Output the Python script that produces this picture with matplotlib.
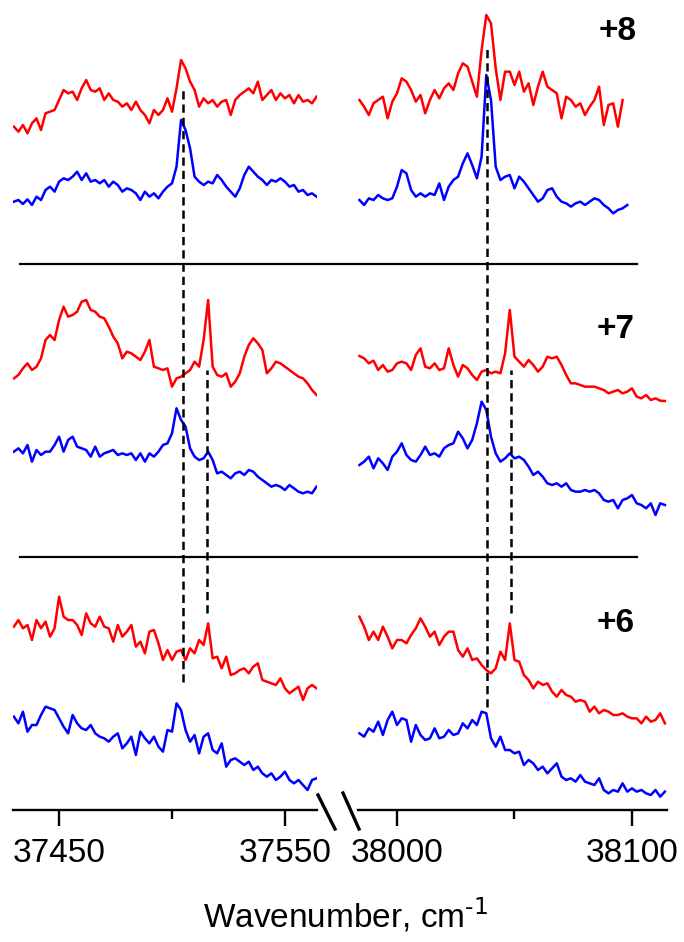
import numpy as np
import matplotlib
matplotlib.use("Agg")
import matplotlib.pyplot as plt
from matplotlib.lines import Line2D

plt.rcParams['font.family'] = ['Liberation Sans', 'DejaVu Sans']
plt.rcParams['mathtext.default'] = 'regular'

# ---------------- data (arbitrary intensity units) ----------------
STEP = 2.0  # cm-1 sampling of the traces
left_start = 37430.0
right_start = 37984.0

# +8 row
r8_left_red = [430,415,435,410,440,455,420,470,475,480, 510,540,530,535,510,545,570,540,535,545,
               510,530,510,505,490,500,480,505,480,465, 440,480,465,480,515,475,545,630,605,565,
               540,490,515,500,510,490,505,510,465,510, 525,535,545,530,565,510,525,540,510,530,
               515,525,500,525,505,510,500,520]
r8_left_blue = [205,210,198,212,195,220,210,240,250,235, 265,275,270,280,295,270,290,265,270,260,
                270,250,265,255,235,245,240,230,210,235, 220,230,215,235,250,260,310,450,420,365,
                280,265,255,265,260,285,270,250,235,220, 245,285,310,295,280,270,255,270,265,275,
                265,250,255,235,240,225,230,220]
r8_right_red = [510,490,465,500,510,520,455,505,530,575, 565,540,505,525,470,510,540,515,545,560,
                540,590,620,610,565,520,660,765,740,605, 510,595,595,555,595,535,560,495,550,595,
                550,540,530,455,520,510,490,500,465,490, 510,550,435,495,500,430,510]
r8_right_blue = [210,195,215,210,225,215,210,215,250,300, 290,240,220,230,220,230,225,260,210,250,
                 270,280,320,350,315,275,340,585,510,310, 270,280,285,245,280,265,245,225,205,215,
                 240,245,220,205,200,190,200,205,195,205, 215,210,195,185,170,180,185,195]

# +7 row
r7_left_red = [545,555,575,590,570,580,605,660,675,660, 720,760,730,735,745,775,780,750,745,730,
               725,700,670,650,605,625,620,610,600,625, 660,580,575,570,575,520,545,550,560,570,
               595,580,660,780,580,555,550,560,520,535, 560,610,645,665,650,630,560,575,595,590,
               580,570,560,550,545,530,510,495]
r7_left_blue = [325,335,320,345,295,330,315,325,325,345, 370,325,360,370,340,335,330,310,340,310,
                320,325,330,315,320,315,320,300,320,295, 320,310,325,345,350,380,455,420,400,335,
                310,300,305,325,300,260,265,255,245,260, 265,255,270,265,250,240,230,220,225,220,
                210,225,215,205,200,205,200,220]
r7_right_red = [612,605,590,598,570,585,565,570,590,595, 590,570,615,635,580,575,590,570,575,635,
                585,550,585,575,555,540,565,570,560,565, 560,620,750,610,595,580,600,585,565,580,
                610,605,610,585,555,530,530,525,520,520, 520,515,510,500,505,510,500,505,515,490,
                485,495,480,485,478,477]
r7_right_blue = [285,295,310,275,305,290,270,310,325,350, 315,300,295,315,340,315,320,310,335,345,
                 350,385,365,335,360,410,475,450,370,320, 295,305,320,305,310,300,280,255,265,250,
                 230,225,230,220,230,210,205,205,210,205, 210,200,180,175,180,155,180,185,195,170,
                 165,155,170,135,170,165]

# +6 row
r6_left_red = [520,540,515,525,480,540,515,535,490,515, 610,550,540,540,525,495,560,530,520,550,
               520,515,475,525,490,505,525,460,475,440, 505,510,470,420,450,420,445,450,420,455,
               440,480,465,530,425,430,395,430,375,380, 390,395,380,400,410,360,355,350,345,365,
               335,320,330,340,300,335,345,335]
r6_left_blue = [250,230,265,205,225,225,255,280,275,270, 245,220,200,255,230,215,210,225,200,190,
                185,175,190,200,155,170,190,135,205,185, 170,190,160,145,210,205,290,270,210,175,
                195,140,190,200,150,140,170,100,120,125, 115,105,115,90,100,80,70,80,60,70,
                85,60,50,60,45,30,60,65]
r6_right_red = [550,520,480,505,480,520,490,455,480,480, 470,495,515,545,520,490,505,465,490,505,
                505,450,430,455,420,425,405,390,380,395, 445,420,530,420,415,375,360,335,355,345,
                350,325,310,330,315,310,295,300,295,265, 280,260,270,265,255,255,260,250,245,245,
                230,250,235,240,260,230]
r6_right_blue = [200,190,215,205,235,195,240,265,225,245, 240,175,225,195,180,185,215,185,190,210,
                 195,200,230,215,240,225,265,260,185,160, 190,150,150,140,145,105,120,110,90,100,
                 80,95,110,70,60,65,55,75,55,50, 45,65,30,20,30,25,50,25,35,25,
                 30,20,15,30,10,25]

row_labels = ['+8', '+7', '+6']
left_lines = [37504.9, 37515.5]     # dashed guide positions, cm-1
right_lines = [38038.3, 38048.5]
left_ticks = [37450, 37550]
left_minor = [37500]
right_ticks = [38000, 38100]
right_minor = [38050]

# ---------------- layout ----------------
W, H = 684, 942
fig = plt.figure(figsize=(W / 100, H / 100), dpi=100)

def px_rect(x0, y0, x1, y1):
    return [x0 / W, 1 - y1 / H, (x1 - x0) / W, (y1 - y0) / H]

axL = fig.add_axes(px_rect(13, 0, 317, 810))
axR = fig.add_axes(px_rect(358, 0, 667, 810))
axL.set_xlim(37429.6, 37564.2)
axR.set_xlim(37983.4, 38114.9)
for ax in (axL, axR):
    ax.set_ylim(0, 2430)

row_offset = {'+8': 1620, '+7': 750, '+6': 30}
rows = {
    '+8': (r8_left_red, r8_left_blue, r8_right_red, r8_right_blue),
    '+7': (r7_left_red, r7_left_blue, r7_right_red, r7_right_blue),
    '+6': (r6_left_red, r6_left_blue, r6_right_red, r6_right_blue),
}
RED, BLUE = '#ff0000', '#0000ff'
LW = 1.8
for lab in row_labels:
    lr, lb, rr, rb = rows[lab]
    off = row_offset[lab]
    for ax, start, data, col in ((axL, left_start, lr, RED), (axL, left_start, lb, BLUE),
                                 (axR, right_start, rr, RED), (axR, right_start, rb, BLUE)):
        y = np.asarray(data, float)
        x = start + STEP * np.arange(len(y))
        ax.plot(x, y + off, color=col, lw=LW, solid_joinstyle='round')

# dashed guide lines
dash = (0, (3.3, 2.0))
axL.plot([left_lines[0]] * 2, [384, 2160], color='k', lw=1.8, ls=dash)
axL.plot([left_lines[1]] * 2, [591, 1320], color='k', lw=1.8, ls=dash)
axR.plot([right_lines[0]] * 2, [309, 2295], color='k', lw=1.8, ls=dash)
axR.plot([right_lines[1]] * 2, [591, 1320], color='k', lw=1.8, ls=dash)

# separators between the rows (continuous across the break)
for ysep in (1638, 759):
    axL.plot([37432.7, 37705.8], [ysep, ysep], color='k', lw=1.6, clip_on=False)

# axes styling
for ax, maj, mino in ((axL, left_ticks, left_minor), (axR, right_ticks, right_minor)):
    for s in ('left', 'right', 'top'):
        ax.spines[s].set_visible(False)
    ax.spines['bottom'].set_linewidth(1.7)
    ax.set_yticks([])
    ax.set_xticks(maj)
    ax.set_xticklabels([str(t) for t in maj])
    ax.set_xticks(mino, minor=True)
    ax.tick_params(axis='x', which='major', length=11.5, width=1.7, direction='out',
                   labelsize=24, pad=9)
    ax.tick_params(axis='x', which='minor', length=6.5, width=1.7, direction='out')
    ax.patch.set_alpha(0)

# axis break marks
for (x0, y0, x1, y1) in ((318, 795, 335, 829), (343, 793, 359, 829)):
    fig.add_artist(Line2D([x0 / W, x1 / W], [1 - y0 / H, 1 - y1 / H], color='k', lw=2.4))

# row labels
for lab, (cx, cy) in zip(row_labels, ((618, 31), (616, 329), (616, 623))):
    fig.text(cx / W, 1 - cy / H, lab, ha='center', va='center', fontsize=24, fontweight='bold')

fig.text(346 / W, 1 - 927 / H, r'Wavenumber, cm$^{\text{-1}}$', ha='center', va='baseline',
         fontsize=24)

fig.savefig('out.png', dpi=100)
